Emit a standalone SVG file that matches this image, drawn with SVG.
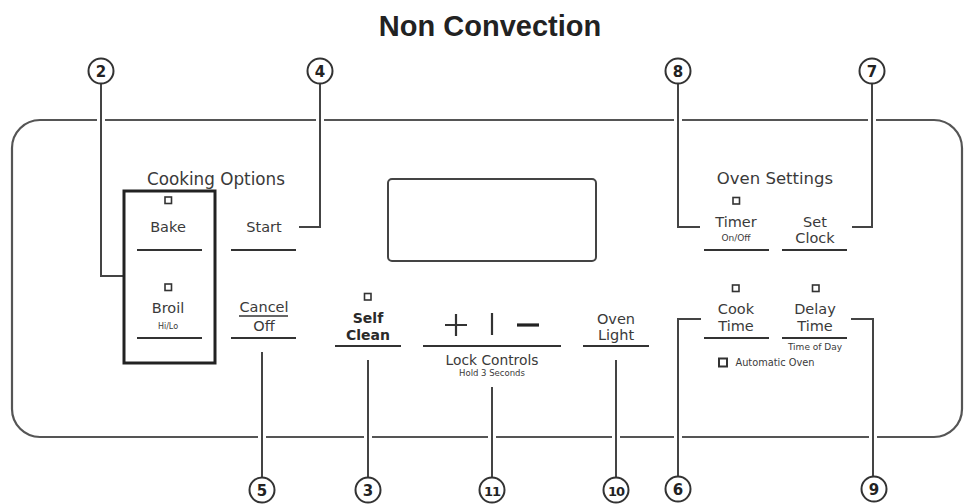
<svg xmlns="http://www.w3.org/2000/svg" width="965" height="504" viewBox="0 0 965 504">
<style>
text{font-family:"DejaVu Sans","Liberation Sans",sans-serif;fill:#3a3a3a;text-anchor:middle}
.t{font-size:14.5px}
.b{font-size:14px;font-weight:bold;fill:#2a2a2a}
.s{font-size:9px}
.u{stroke:#333;stroke-width:2;fill:none}
.led{fill:none;stroke:#333;stroke-width:1.6}
.c{fill:#fff;stroke:#333;stroke-width:2}
.n{font-size:15px;font-weight:bold;fill:#222}
.ln{stroke:#444;stroke-width:2;fill:none}
.halo{stroke:#fff;stroke-width:8;fill:none}
</style>
<rect width="965" height="504" fill="#fff"/>
<text x="490" y="36" style="font-family:'Liberation Sans',Arial,sans-serif;font-size:29px;font-weight:bold;fill:#222">Non Convection</text>

<g id="panel">
<rect x="12" y="120" width="950" height="317" rx="28" fill="none" stroke="#555" stroke-width="2.2"/>
<rect x="388" y="179" width="208" height="82" rx="4" fill="none" stroke="#444" stroke-width="2"/>
</g>

<g id="connectors">
<path class="halo" d="M101 113V127M320 113V127M678 113V127M872 113V127M262 430V444M368 430V444M492 430V444M616 430V444M678 430V444M873 430V444"/>
<path class="ln" d="M101 84V276H123"/>
<path class="ln" d="M320 84V227H299"/>
<path class="ln" d="M678 84V227H700"/>
<path class="ln" d="M872 84V227H852"/>
<path class="ln" d="M262 352V477"/>
<path class="ln" d="M368 360V477"/>
<path class="ln" d="M492 387V477"/>
<path class="ln" d="M616 360V477"/>
<path class="ln" d="M678 477V319H701"/>
<path class="ln" d="M873 477V319H851"/>
</g>

<g id="callout-2"><circle class="c" cx="101" cy="71" r="12.5"/><text class="n" x="101" y="76.5">2</text></g>
<g id="callout-4"><circle class="c" cx="320" cy="71" r="12.5"/><text class="n" x="320" y="76.5">4</text></g>
<g id="callout-8"><circle class="c" cx="678" cy="71" r="12.5"/><text class="n" x="678" y="76.5">8</text></g>
<g id="callout-7"><circle class="c" cx="872" cy="71" r="12.5"/><text class="n" x="872" y="76.5">7</text></g>
<g id="callout-5"><circle class="c" cx="262" cy="490" r="12.5"/><text class="n" x="262" y="495.5">5</text></g>
<g id="callout-3"><circle class="c" cx="368" cy="490" r="12.5"/><text class="n" x="368" y="495.5">3</text></g>
<g id="callout-11"><circle class="c" cx="492" cy="490" r="12.5"/><text class="n" x="492" y="495.5" style="font-size:13px;letter-spacing:-1px">11</text></g>
<g id="callout-10"><circle class="c" cx="616" cy="490" r="12.5"/><text class="n" x="616" y="495.5" style="font-size:13px;letter-spacing:-1px">10</text></g>
<g id="callout-6"><circle class="c" cx="678" cy="489" r="12.5"/><text class="n" x="678" y="494.5">6</text></g>
<g id="callout-9"><circle class="c" cx="874" cy="489" r="12.5"/><text class="n" x="874" y="494.5">9</text></g>

<g id="cooking-options">
<text x="216" y="185" style="font-size:16.8px">Cooking Options</text>
<rect x="124" y="191" width="91" height="172" fill="none" stroke="#222" stroke-width="3"/>
</g>
<g id="bake">
<rect class="led" x="165" y="197" width="6.5" height="6.5"/>
<text class="t" x="168" y="232">Bake</text>
<path class="u" d="M137 250H202"/>
</g>
<g id="broil">
<rect class="led" x="165" y="284" width="6.5" height="6.5"/>
<text class="t" x="168" y="313">Broil</text>
<text class="s" x="168" y="329" style="font-size:8px">Hi/Lo</text>
<path class="u" d="M137 338H202"/>
</g>
<g id="start">
<text class="t" x="264" y="232">Start</text>
<path class="u" d="M231 250H296"/>
</g>
<g id="cancel-off">
<text class="t" x="264" y="312">Cancel</text>
<path class="u" d="M239 316H288" style="stroke-width:1.5"/>
<text class="t" x="264" y="331">Off</text>
<path class="u" d="M231 338H296"/>
</g>
<g id="self-clean">
<rect class="led" x="364.5" y="293.5" width="6.5" height="6.5"/>
<text class="b" x="368" y="323">Self</text>
<text class="b" x="368" y="339.5">Clean</text>
<path class="u" d="M335 346H401"/>
</g>
<g id="lock-controls">
<path d="M445 325H467M456 314V336" stroke="#333" stroke-width="2.2" fill="none"/>
<path d="M492 313V335" stroke="#333" stroke-width="2.2"/>
<path d="M517 325H539" stroke="#222" stroke-width="3.2"/>
<path class="u" d="M423 346H561"/>
<text x="492" y="365" style="font-size:13.8px">Lock Controls</text>
<text class="s" x="492" y="376" style="font-size:8.5px">Hold 3 Seconds</text>
</g>
<g id="oven-light">
<text class="t" x="616" y="323.5">Oven</text>
<text class="t" x="616" y="339.5">Light</text>
<path class="u" d="M583 346H649"/>
</g>
<g id="oven-settings">
<text x="775" y="184" style="font-size:16.5px">Oven Settings</text>
</g>
<g id="timer">
<rect class="led" x="733" y="197.5" width="6.5" height="6.5"/>
<text class="t" x="736" y="227">Timer</text>
<text class="s" x="736" y="241">On/Off</text>
<path class="u" d="M704 250H769"/>
</g>
<g id="set-clock">
<text class="t" x="815" y="227">Set</text>
<text class="t" x="815" y="243">Clock</text>
<path class="u" d="M782 250H847"/>
</g>
<g id="cook-time">
<rect class="led" x="732.5" y="285" width="6.5" height="6.5"/>
<text class="t" x="736" y="314">Cook</text>
<text class="t" x="736" y="331">Time</text>
<path class="u" d="M704 338H769"/>
</g>
<g id="delay-time">
<rect class="led" x="812.5" y="285" width="6.5" height="6.5"/>
<text class="t" x="815" y="314">Delay</text>
<text class="t" x="815" y="331">Time</text>
<path class="u" d="M782 338H847"/>
<text class="s" x="815" y="349.5">Time of Day</text>
</g>
<g id="automatic-oven">
<rect class="led" x="719" y="358.5" width="8" height="8" style="stroke-width:2"/>
<text x="775" y="366" style="font-size:9.8px">Automatic Oven</text>
</g>
</svg>
